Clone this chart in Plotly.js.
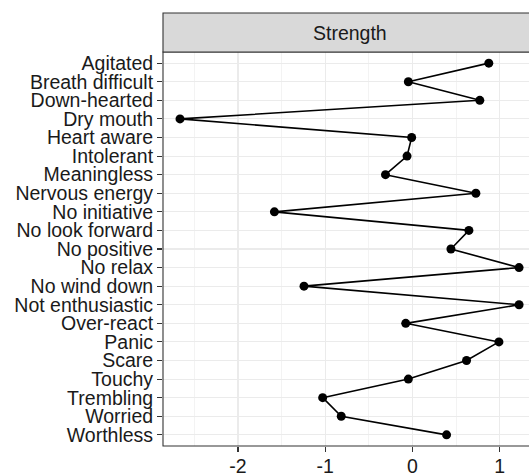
<!DOCTYPE html>
<html>
<head>
<meta charset="utf-8">
<script src="https://cdn.plot.ly/plotly-3.0.1.min.js"></script>
<style>
html,body{margin:0;padding:0;overflow:hidden;background:#fff;}
#chart{width:540px;height:474px;}
</style>
</head>
<body>
<div id="chart"></div>
<script>
const items = ["Agitated","Breath difficult","Down-hearted","Dry mouth","Heart aware","Intolerant","Meaningless","Nervous energy","No initiative","No look forward","No positive","No relax","No wind down","Not enthusiastic","Over-react","Panic","Scare","Touchy","Trembling","Worried","Worthless"];
const strength = [0.874,-0.048,0.771,-2.665,-0.01,-0.063,-0.31,0.726,-1.583,0.646,0.44,1.221,-1.244,1.221,-0.078,0.99,0.619,-0.048,-1.03,-0.817,0.39];
const facetLabel = "Strength";
const xTicks = [-2,-1,0,1];

const font = "Liberation Sans, Arial, sans-serif";
const trace = {
  x: strength, y: items, type: "scatter", mode: "lines+markers",
  line: {color: "#000000", width: 1.6},
  marker: {color: "#000000", size: 9},
  hoverinfo: "none", showlegend: false
};
const layout = {
  width: 540, height: 474,
  margin: {l: 163, r: 4, t: 52, b: 28, pad: 0},
  paper_bgcolor: "#ffffff", plot_bgcolor: "#ffffff",
  font: {family: font, color: "#1a1a1a"},
  xaxis: {
    range: [-2.86, 1.415], tickmode: "array", tickvals: xTicks, ticktext: xTicks.map(String),
    showgrid: true, gridcolor: "#EBEBEB", gridwidth: 1.1, zeroline: false,
    ticks: "outside", ticklen: 5, tickcolor: "#333333", tickwidth: 1.1,
    ticklabelstandoff: -2,
    tickfont: {family: font, size: 19.5, color: "#1a1a1a"},
    minor: {tickvals: [-2.5,-1.5,-0.5,0.5], showgrid: true, gridcolor: "#EBEBEB", gridwidth: 0.6, ticklen: 0},
    showline: false, fixedrange: true
  },
  yaxis: {
    type: "category", categoryorder: "array", categoryarray: items,
    tickmode: "array", tickvals: items, ticktext: items,
    range: [20.6, -0.6],
    showgrid: true, gridcolor: "#EBEBEB", gridwidth: 1.1, zeroline: false,
    ticks: "outside", ticklen: 5, tickcolor: "#333333", tickwidth: 1.1,
    tickfont: {family: font, size: 19.5, color: "#1a1a1a"},
    showline: false, fixedrange: true
  },
  shapes: [
    {type: "rect", xref: "paper", yref: "paper", x0: 0, x1: 1, y0: 0, y1: 1,
     line: {color: "#333333", width: 1.1}, fillcolor: "rgba(0,0,0,0)", layer: "above"},
    {type: "rect", xref: "paper", yref: "paper", x0: 0, x1: 1, y0: 1, y1: 1 + 39/394,
     line: {color: "#333333", width: 1.1}, fillcolor: "#D9D9D9", layer: "above"}
  ],
  annotations: [
    {text: facetLabel, xref: "paper", yref: "paper", x: 0.5, y: 1 + 19.5/394,
     xanchor: "center", yanchor: "middle", showarrow: false,
     font: {family: font, size: 19.5, color: "#1a1a1a"}}
  ]
};
Plotly.newPlot("chart", [trace], layout, {displayModeBar: false, staticPlot: true});
</script>
</body>
</html>
